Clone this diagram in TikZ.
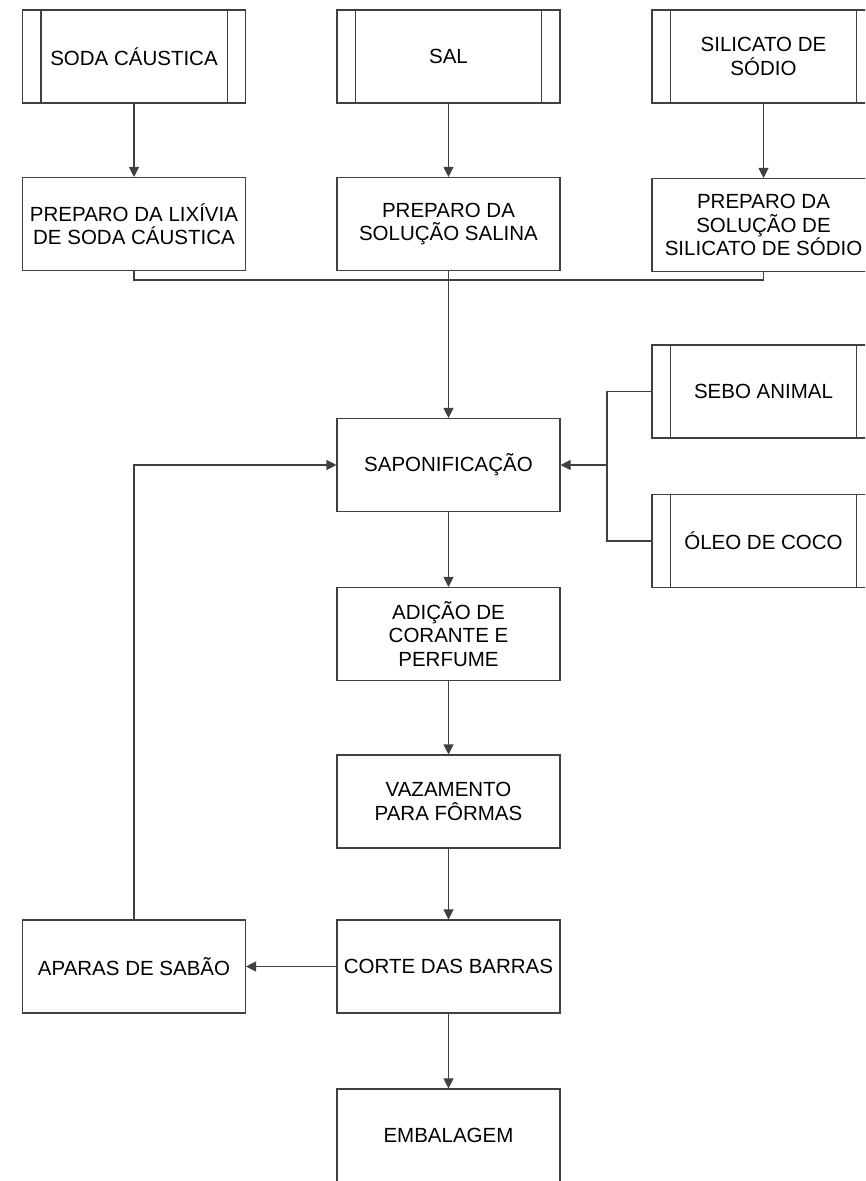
\documentclass[tikz,border=0pt]{standalone}
\usepackage{fontspec}
\setmainfont{Liberation Sans}
\usetikzlibrary{arrows.meta}
\tikzset{
  box/.style={draw=black!75, line width=1.1pt, fill=white, minimum width=223pt, minimum height=93pt, inner sep=0pt, align=center, font=\fontsize{20.5}{23.5}\selectfont},
  arr/.style={draw=black!75, line width=1.1pt, -{Triangle[length=10pt,width=10pt]}},
  con/.style={draw=black!75, line width=1.1pt},
}
\newcommand{\sideBars}[1]{%
  \draw[con] ([xshift=19pt]#1.north west) -- ([xshift=19pt]#1.south west);
  \draw[con] ([xshift=-19pt]#1.north east) -- ([xshift=-19pt]#1.south east);}
\begin{document}
\begin{tikzpicture}[x=1pt,y=-1pt]
\useasboundingbox (0,0) rectangle (865,1181);
\clip (0,0) rectangle (865,1181);
\fill[white] (0,0) rectangle (865,1181);
% top row
\node[box] (sc) at (134,56.5) {SODA CÁUSTICA};
\node[box] (sal) at (448.5,56.5) {SAL};
\node[box] (sil) at (763.5,56.5) {SILICATO DE\\SÓDIO};
\sideBars{sc}\sideBars{sal}\sideBars{sil}
% second row
\node[box] (lix) at (134,224) {PREPARO DA LIXÍVIA\\DE SODA CÁUSTICA};
\node[box] (salina) at (448.5,224) {PREPARO DA\\SOLUÇÃO SALINA};
\node[box] (silprep) at (763.5,225) {PREPARO DA\\SOLUÇÃO DE\\SILICATO DE SÓDIO};
% process chain
\node[box] (sap) at (448.5,465) {SAPONIFICAÇÃO};
\node[box] (sebo) at (763.5,391.5) {SEBO ANIMAL};
\node[box] (oleo) at (763.5,541) {ÓLEO DE COCO};
\sideBars{sebo}\sideBars{oleo}
\node[box] (adic) at (448.5,634) {ADIÇÃO DE\\CORANTE E\\PERFUME};
\node[box] (vaz) at (448.5,801.5) {VAZAMENTO\\PARA FÔRMAS};
\node[box] (corte) at (448.5,966.5) {CORTE DAS BARRAS};
\node[box] (emb) at (448.5,1135.5) {EMBALAGEM};
\node[box] (apar) at (134,966.5) {APARAS DE SABÃO};
% connectors
\draw[arr] (sc) -- (lix);
\draw[arr] (sal) -- (salina);
\draw[arr] (sil) -- (silprep);
\coordinate (bus) at (448.5,280);
\draw[con] (lix.south) |- (bus) -| (silprep.south);
\draw[con] (salina.south) -- (bus);
\draw[arr] (bus) -- (sap.north);
\coordinate (j) at (607,465);
\draw[con] (sebo.west) -| (j);
\draw[con] (oleo.west) -| (j);
\draw[arr] (j) -- (sap.east);
\draw[arr] (sap) -- (adic);
\draw[arr] (adic) -- (vaz);
\draw[arr] (vaz) -- (corte);
\draw[arr] (corte) -- (emb);
\draw[arr] (corte.west) -- (apar.east);
\draw[arr] (apar.north) |- (sap.west);
\end{tikzpicture}
\end{document}
